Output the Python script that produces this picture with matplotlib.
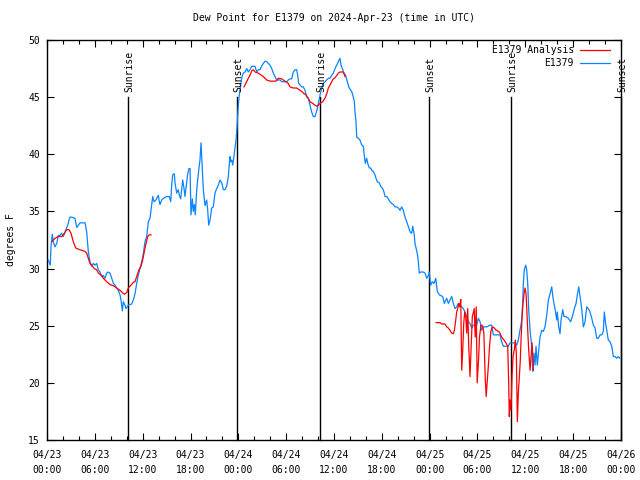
import matplotlib
matplotlib.use("Agg")
import matplotlib.pyplot as plt

plt.rcParams['font.family'] = ['DejaVu Sans Mono']

title = "Dew Point for E1379 on 2024-Apr-23 (time in UTC)"
ylabel = "degrees F"

# hours since 04/23 00:00 UTC
obs_hours = [0.16, 0.41, 0.50, 0.66, 0.79, 1.00, 1.22, 1.42, 1.63, 1.84, 2.04, 2.26, 2.60, 2.76, 2.89, 3.10,
             3.51, 3.73, 3.93, 4.14, 4.77, 4.98, 5.18, 5.39, 5.61, 5.81, 6.02, 6.23, 6.44, 6.65, 6.86, 7.06,
             7.28, 7.49, 7.69, 7.90, 8.12, 8.32, 8.53, 8.74, 8.94, 9.16, 9.28, 9.45, 9.57, 9.78, 9.91, 10.20,
             10.62, 10.83, 11.04, 11.25, 11.45, 11.67, 11.88, 12.08, 12.29, 12.51, 12.71, 12.92, 13.13, 13.26,
             13.42, 13.67, 13.96, 14.17, 14.39, 14.59, 15.02, 15.34, 15.52, 15.64, 15.77, 15.97, 16.06, 16.27,
             16.47, 16.60, 16.77, 16.90, 17.02, 17.19, 17.31, 17.52, 17.65, 17.81, 17.94, 18.06, 18.23, 18.35,
             18.48, 18.60, 18.78, 18.98, 19.19, 19.32, 19.44, 19.61, 19.82, 20.03, 20.16, 20.28, 20.45, 20.66,
             20.86, 21.07, 21.29, 21.49, 21.70, 21.92, 22.12, 22.33, 22.54, 22.74, 22.87, 22.96, 23.04, 23.17,
             23.30, 23.46, 23.58, 23.71, 23.80, 23.87, 24.00, 24.12, 24.30, 24.46, 24.62, 24.84, 25.05, 25.25,
             25.46, 25.68, 26.09, 26.31, 26.51, 26.72, 26.93, 27.13, 27.35, 27.56, 27.76, 27.97, 28.19, 28.39,
             28.60, 28.81, 29.23, 29.44, 30.07, 30.27, 30.48, 30.70, 30.90, 31.11, 31.32, 31.45, 31.57, 31.74,
             31.95, 32.15, 32.36, 32.58, 32.78, 32.99, 33.20, 33.41, 33.62, 33.74, 33.91, 34.08, 34.25, 34.46,
             34.66, 34.87, 35.09, 35.29, 35.50, 35.71, 35.91, 36.13, 36.34, 36.54, 36.75, 36.88, 37.04, 37.26,
             37.47, 37.67, 37.85, 38.01, 38.22, 38.42, 38.55, 38.63, 38.76, 38.85, 39.05, 39.26, 39.48, 39.68,
             39.80, 39.93, 40.10, 40.23, 40.43, 40.61, 40.73, 40.93, 41.14, 41.27, 41.43, 41.68, 41.86, 42.11,
             42.27, 42.40, 42.61, 42.81, 43.03, 43.24, 43.44, 43.65, 43.87, 44.07, 44.28, 44.49, 44.69, 44.91,
             45.12, 45.32, 45.54, 45.75, 45.87, 46.04, 46.16, 46.29, 46.45, 46.58, 46.70, 46.88, 47.20, 47.42,
             47.63, 47.83, 47.95, 48.13, 48.33, 48.55, 48.76, 48.96, 49.21, 49.64, 49.84, 50.14, 50.34, 50.55,
             50.77, 50.97, 51.18, 51.39, 51.59, 51.81, 52.02, 52.22, 52.43, 52.65, 52.85, 53.06, 53.27, 53.48,
             53.90, 54.10, 54.32, 54.53, 54.73, 55.16, 55.57, 55.78, 55.98, 56.82, 57.03, 57.24, 57.86, 58.08,
             58.71, 58.92, 59.12, 59.33, 59.55, 59.67, 59.75, 59.87, 60.05, 60.17, 60.30, 60.42, 60.59, 60.80,
             60.93, 61.09, 61.22, 61.34, 61.50, 61.68, 61.84, 62.06, 62.26, 62.47, 62.68, 62.89, 63.10, 63.31,
             63.51, 63.72, 63.94, 64.01, 64.19, 64.35, 64.48, 64.69, 64.85, 65.10, 65.39, 65.69, 65.94, 66.15,
             66.36, 66.52, 66.70, 66.86, 67.07, 67.28, 67.49, 67.70, 67.90, 68.11, 68.33, 68.53, 68.74, 68.96,
             69.16, 69.37, 69.58, 69.78, 69.91, 70.04, 70.21, 70.41, 70.62, 70.84, 71.04, 71.25, 71.46, 71.66,
             71.88]
obs_values = [30.75, 30.3, 31.9, 33.0, 32.35, 31.9, 32.2, 32.9, 32.9, 33.1, 32.8, 33.2, 33.8, 34.25, 34.5, 34.5,
              34.4, 33.6, 33.8, 34.0, 34.0, 33.2, 31.5, 30.6, 30.2, 30.45, 30.3, 30.45, 29.9, 29.7, 29.3, 29.4,
              29.15, 29.6, 29.7, 29.6, 29.15, 28.7, 28.55, 28.3, 28.1, 27.7, 27.25, 26.3, 27.1, 26.8, 26.5, 26.8,
              26.9, 27.25, 27.8, 28.7, 29.4, 30.0, 30.6, 31.3, 32.35, 32.8, 34.1, 34.4, 35.6, 36.3,
              35.85, 36.0, 36.4, 35.6, 36.0, 36.15, 36.3, 36.3, 35.85, 37.3, 38.2, 38.3, 37.5, 36.6,
              36.9, 36.4, 36.1, 37.0, 37.75, 37.0, 36.3, 37.5, 38.3, 38.75, 38.75, 34.7, 36.1, 35.0,
              35.6, 34.7, 36.9, 38.3, 39.5, 41.0, 39.35, 36.9, 35.5, 36.0, 35.1, 33.8, 34.25, 35.3,
              35.4, 36.6, 37.0, 37.3, 37.75, 37.5, 36.9, 36.9, 37.2, 38.0, 39.2, 39.8, 39.35, 39.5,
              39.05, 39.9, 40.5, 41.25, 42.0, 42.85, 44.3, 45.2, 46.06, 46.8, 47.1, 47.2, 47.5, 47.2,
              47.4, 47.7, 47.7, 47.2, 47.4, 47.4, 47.7, 47.95, 48.15, 48.1, 47.95, 47.8, 47.5, 47.1,
              46.8, 46.5, 46.5, 46.35, 46.35, 46.5, 46.6, 46.6, 47.2, 47.4, 47.4, 46.9, 46.2, 46.06,
              45.9, 45.9, 45.6, 45.0, 44.9, 44.3, 43.7, 43.3, 43.3, 43.6, 44.0, 44.6, 45.2, 45.8,
              46.2, 46.35, 46.5, 46.65, 46.65, 46.9, 47.1, 47.5, 47.8, 48.1, 48.4, 47.8, 47.5, 47.1,
              46.9, 46.35, 45.9, 45.7, 45.5, 45.0, 44.6, 43.7, 42.85, 41.5, 41.4, 41.25, 40.8, 40.7,
              39.9, 39.2, 39.65, 39.2, 38.8, 38.8, 38.6, 38.5, 38.2, 37.9, 37.6, 37.5, 37.2, 37.0,
              36.7, 36.3, 36.3, 36.1, 35.85, 35.7, 35.6, 35.4, 35.4, 35.3, 35.1, 35.4, 35.1, 34.5,
              34.1, 33.7, 33.2, 33.1, 33.7, 33.1, 32.2, 31.8, 31.3, 30.6, 29.6, 29.7, 29.7, 29.6,
              29.15, 29.4, 29.7, 28.55, 28.85, 28.7, 29.15, 28.0, 27.7, 27.55, 26.95, 27.4, 26.95, 27.25,
              27.55, 26.95, 26.5, 26.65, 26.95, 26.8, 26.65, 26.5, 26.2, 25.8, 25.35, 25.2, 24.8, 25.05,
              25.05, 25.65, 25.35, 24.6, 24.9, 24.9, 25.05, 25.05, 24.2, 24.2, 23.6, 23.2, 23.2, 23.5,
              23.5, 23.3, 23.75, 24.6, 25.5, 27.1, 28.7, 29.9, 30.3, 29.9, 28.7, 26.4, 24.6, 23.2,
              21.0, 22.6, 21.55, 23.2, 21.55, 22.9, 24.0, 24.6, 24.5, 24.9, 25.9, 27.25, 27.8, 28.4,
              27.25, 26.5, 25.5, 26.2, 24.9, 24.3, 25.5, 26.4, 25.8, 25.8, 25.65, 25.35, 25.9, 26.5,
              26.95, 27.7, 28.4, 27.55, 26.5, 24.9, 25.35, 26.65, 26.5, 26.2, 25.65, 25.05, 24.8, 23.9,
              23.9, 24.2, 24.2, 24.5, 26.2, 25.35, 24.6, 23.75, 23.6, 23.2, 22.3, 22.3, 22.15, 22.3,
              22.15]

# analysis series (three separate segments)
ana1_hours = [0.59, 1.00, 1.42, 1.84, 2.04, 2.47, 2.76, 3.01, 3.30, 3.60, 3.93, 4.35, 4.77, 4.98, 5.18, 5.39,
              5.61, 5.93, 6.23, 6.44, 6.86, 7.06, 7.49, 7.90, 8.32, 8.74, 9.16, 9.45, 9.70, 10.00, 10.20, 10.54,
              10.83, 11.04, 11.25, 11.54, 11.79, 12.00, 12.21, 12.42, 12.63, 12.80, 13.05]
ana1_values = [32.35, 32.65, 32.8, 32.8, 32.95, 33.4, 33.4, 33.1, 32.35, 31.8, 31.7, 31.6, 31.5, 31.35, 30.9, 30.45,
               30.3, 30.0, 29.9, 29.6, 29.4, 29.15, 28.85, 28.6, 28.5, 28.3, 28.1, 27.9, 27.75, 27.9, 28.3, 28.55,
               28.8, 28.85, 29.3, 29.9, 30.2, 30.75, 31.5, 32.2, 32.8, 32.95, 32.95]
ana2_hours = [24.71, 25.05, 25.25, 25.46, 25.68, 25.88, 26.09, 26.51, 26.93, 27.13, 27.35, 27.56, 27.97, 28.73,
              29.01, 29.44, 29.85, 30.27, 30.48, 30.90, 31.32, 31.74, 31.95, 32.24, 32.49, 32.78, 32.99, 33.33,
              33.62, 33.83, 34.03, 34.25, 34.58, 34.87, 35.09, 35.29, 35.50, 35.71, 35.91, 36.13, 36.34, 36.54,
              36.75, 36.97, 37.17, 37.38]
ana2_values = [45.9, 46.35, 46.65, 46.9, 47.3, 47.4, 47.2, 47.1, 46.9, 46.8, 46.65, 46.5, 46.4, 46.4,
               46.65, 46.6, 46.4, 46.2, 45.9, 45.8, 45.8, 45.6, 45.5, 45.3, 45.2, 44.9, 44.6, 44.45,
               44.3, 44.2, 44.3, 44.45, 44.6, 44.9, 45.3, 45.8, 46.06, 46.35, 46.6, 46.7, 46.9, 47.1,
               47.2, 47.2, 47.2, 46.8]
ana3_hours = [48.80, 49.30, 49.51, 49.93, 50.14, 50.34, 50.55, 50.77, 50.97, 51.10, 51.27, 51.39, 51.52, 51.65,
              51.77, 51.90, 52.02, 52.15, 52.27, 52.40, 52.52, 52.65, 52.77, 52.90, 53.06, 53.19, 53.35, 53.59,
              53.71, 53.84, 53.96, 54.13, 54.25, 54.43, 54.55, 54.68, 54.80, 54.97, 55.09, 55.22, 55.38, 55.51,
              55.68, 55.81, 55.93, 56.10, 56.35, 56.64, 56.82, 57.03, 57.32, 57.57, 57.79, 57.91, 57.99, 58.08,
              58.20, 58.33, 58.46, 58.62, 58.75, 58.87, 59.00, 59.12, 59.25, 59.37, 59.46, 59.59, 59.71, 59.84,
              59.96, 60.09, 60.17, 60.30, 60.42, 60.59, 60.72, 60.84, 60.97, 61.01]
ana3_values = [25.27, 25.27, 25.15, 25.15, 24.9, 24.8, 24.6, 24.35, 24.3, 24.6, 25.5, 26.2, 26.5, 26.95,
               26.65, 27.3, 21.1, 22.9, 25.2, 26.2, 25.8, 24.35, 26.5, 23.2, 20.55, 22.9, 25.8, 26.5,
               24.0, 26.65, 20.0, 22.0, 24.0, 25.05, 25.05, 24.9, 24.35, 20.4, 18.8, 20.1, 21.7, 23.2,
               24.5, 24.8, 24.9, 24.8, 24.6, 24.5, 24.35, 24.0, 23.75, 23.5, 23.2, 20.0, 17.05, 18.5,
               17.6, 20.55, 22.3, 22.9, 23.75, 22.6, 16.6, 19.1, 20.55, 22.0, 23.75, 25.8, 26.95, 27.8,
               28.3, 27.8, 26.65, 24.6, 22.9, 21.1, 22.3, 23.5, 22.0, 21.1]

sun_hours = [10.16, 23.83, 34.24, 47.9, 58.2, 72.0]
sun_labels = ["Sunrise", "Sunset", "Sunrise", "Sunset", "Sunrise", "Sunset"]

xtick_hours = [0, 6, 12, 18, 24, 30, 36, 42, 48, 54, 60, 66, 72]
xtick_labels = ["04/23\n00:00", "04/23\n06:00", "04/23\n12:00", "04/23\n18:00",
                "04/24\n00:00", "04/24\n06:00", "04/24\n12:00", "04/24\n18:00",
                "04/25\n00:00", "04/25\n06:00", "04/25\n12:00", "04/25\n18:00",
                "04/26\n00:00"]
ytick_values = [15, 20, 25, 30, 35, 40, 45, 50]

blue = '#0a84ff'
red = '#ff0000'
fs = 7

fig = plt.figure(figsize=(6.4, 4.8), dpi=100)
ax = fig.add_axes([47/640, 40/480, 574/640, 400/480])
ax.set_xlim(0, 72)
ax.set_ylim(15, 50)

ax.plot(obs_hours, obs_values, color=blue, lw=0.9, zorder=3)
ax.plot(ana1_hours, ana1_values, color=red, lw=0.9, zorder=4)
ax.plot(ana2_hours, ana2_values, color=red, lw=0.9, zorder=4)
ax.plot(ana3_hours, ana3_values, color=red, lw=0.9, zorder=4)

for h, lab in zip(sun_hours, sun_labels):
    ax.plot([h, h], [15, 45], color='black', lw=1.0, zorder=2, clip_on=False)
    ax.text(h + 0.15, 45.45, lab, rotation=90, ha='center', va='bottom', fontsize=fs, clip_on=False)

ax.set_xticks(xtick_hours)
ax.set_xticklabels(xtick_labels, fontsize=fs, linespacing=1.6)
ax.set_xticks(range(0, 73, 2), minor=True)
ax.set_yticks(ytick_values)
ax.set_yticklabels([str(v) for v in ytick_values], fontsize=fs)
ax.tick_params(which='both', direction='in', top=True, right=True, width=0.8)
ax.tick_params(which='major', length=5, pad=5)
ax.tick_params(which='minor', length=3)
ax.tick_params(axis='x', which='major', pad=7)
for s in ax.spines.values():
    s.set_linewidth(1.0)

ax.set_title(title, fontsize=fs, pad=14)
ax.set_ylabel(ylabel, fontsize=fs, labelpad=9)

# legend (gnuplot-style key)
ax.text(0.918, 0.975, "E1379 Analysis", transform=ax.transAxes, ha='right', va='center', fontsize=fs)
ax.plot([0.9286, 0.9808], [0.975, 0.975], transform=ax.transAxes, color=red, lw=0.9)
ax.text(0.918, 0.9425, "E1379", transform=ax.transAxes, ha='right', va='center', fontsize=fs)
ax.plot([0.9286, 0.9808], [0.9425, 0.9425], transform=ax.transAxes, color=blue, lw=0.9)

fig.savefig("out.png", dpi=100)
